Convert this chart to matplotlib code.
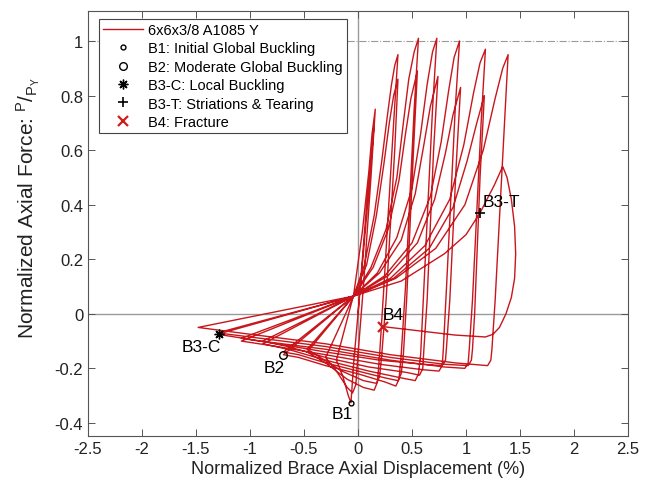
import matplotlib
matplotlib.use("Agg")
import matplotlib.pyplot as plt
import numpy as np

plt.rcParams['font.family'] = ['Liberation Sans', 'DejaVu Sans']
plt.rcParams['mathtext.fontset'] = 'custom'
plt.rcParams['mathtext.rm'] = 'Liberation Sans'
plt.rcParams['mathtext.it'] = 'Liberation Sans:italic'

# ---- hysteresis data (normalized displacement %, P/Py) ----
c00_x = [0.0, 0.07, 0.13, 0.15, 0.10, 0.0, -0.04, -0.065, -0.09, -0.14, -0.20]
c00_y = [0.0, 0.35, 0.62, 0.70, 0.45, 0.0, -0.18, -0.326, -0.30, -0.23, -0.17]
c01_x = [-0.12, -0.04, 0.04, 0.10, 0.13, 0.16, 0.12, 0.05, 0.0, -0.02, -0.05, -0.10, -0.20, -0.30]
c01_y = [-0.05, 0.07, 0.30, 0.52, 0.66, 0.75, 0.50, 0.10, -0.15, -0.26, -0.29, -0.27, -0.21, -0.16]
c02_x = [-0.04, 0.06, 0.15, 0.22, 0.27, 0.31, 0.34, 0.37, 0.33, 0.24, 0.20, 0.18, 0.15, 0.05, -0.10, -0.30, -0.47]
c02_y = [0.065, 0.18, 0.36, 0.56, 0.72, 0.84, 0.91, 0.95, 0.70, 0.10, -0.15, -0.25, -0.28, -0.27, -0.24, -0.18, -0.14]
c03_x = [-0.04, 0.08, 0.17, 0.24, 0.29, 0.33, 0.37, 0.34, 0.26, 0.22, 0.20, 0.17, 0.05, -0.15, -0.35, -0.47]
c03_y = [0.065, 0.18, 0.36, 0.55, 0.70, 0.80, 0.86, 0.60, 0.05, -0.15, -0.23, -0.255, -0.245, -0.21, -0.16, -0.13]
c04_x = [-0.04, 0.12, 0.26, 0.36, 0.42, 0.47, 0.52, 0.56, 0.52, 0.44, 0.40, 0.38, 0.35, 0.25, 0.0, -0.30, -0.55, -0.69]
c04_y = [0.065, 0.17, 0.31, 0.50, 0.70, 0.86, 0.96, 1.01, 0.75, 0.10, -0.15, -0.24, -0.265, -0.25, -0.22, -0.19, -0.16, -0.15]
c05_x = [-0.04, 0.14, 0.28, 0.38, 0.44, 0.49, 0.55, 0.52, 0.45, 0.42, 0.40, 0.37, 0.25, 0.0, -0.30, -0.55, -0.69]
c05_y = [0.065, 0.17, 0.31, 0.49, 0.66, 0.79, 0.89, 0.65, 0.05, -0.15, -0.22, -0.245, -0.235, -0.21, -0.18, -0.15, -0.14]
c06_x = [-0.04, 0.18, 0.36, 0.50, 0.58, 0.64, 0.69, 0.73, 0.69, 0.61, 0.58, 0.56, 0.53, 0.40, 0.10, -0.30, -0.65, -0.88]
c06_y = [0.065, 0.15, 0.28, 0.46, 0.66, 0.84, 0.96, 1.01, 0.75, 0.10, -0.15, -0.22, -0.245, -0.235, -0.21, -0.17, -0.13, -0.11]
c07_x = [-0.04, 0.20, 0.40, 0.53, 0.61, 0.67, 0.74, 0.70, 0.64, 0.61, 0.60, 0.57, 0.45, 0.10, -0.30, -0.65, -0.88]
c07_y = [0.065, 0.15, 0.27, 0.44, 0.62, 0.76, 0.87, 0.60, 0.05, -0.13, -0.20, -0.225, -0.215, -0.195, -0.16, -0.12, -0.10]
c08_x = [-0.04, 0.25, 0.50, 0.67, 0.77, 0.84, 0.89, 0.94, 0.90, 0.82, 0.79, 0.78, 0.75, 0.60, 0.20, -0.30, -0.75, -1.08]
c08_y = [0.065, 0.14, 0.26, 0.43, 0.63, 0.82, 0.94, 1.00, 0.75, 0.10, -0.13, -0.19, -0.21, -0.205, -0.185, -0.15, -0.12, -0.10]
c09_x = [-0.04, 0.28, 0.55, 0.71, 0.81, 0.88, 0.95, 0.91, 0.85, 0.82, 0.81, 0.78, 0.60, 0.20, -0.30, -0.75, -1.08]
c09_y = [0.065, 0.14, 0.26, 0.42, 0.59, 0.73, 0.83, 0.55, 0.05, -0.12, -0.17, -0.19, -0.185, -0.17, -0.14, -0.11, -0.09]
c10_x = [-0.04, 0.30, 0.62, 0.85, 0.98, 1.07, 1.13, 1.18, 1.14, 1.06, 1.03, 1.02, 0.99, 0.80, 0.30, -0.30, -0.90, -1.30]
c10_y = [0.065, 0.13, 0.25, 0.42, 0.62, 0.81, 0.92, 0.97, 0.70, 0.05, -0.13, -0.18, -0.20, -0.195, -0.17, -0.13, -0.10, -0.075]
c11_x = [-0.04, 0.33, 0.66, 0.88, 1.01, 1.10, 1.17, 1.13, 1.08, 1.06, 1.05, 1.02, 0.80, 0.30, -0.30, -0.90, -1.30]
c11_y = [0.065, 0.13, 0.24, 0.39, 0.56, 0.70, 0.80, 0.50, 0.0, -0.13, -0.17, -0.19, -0.185, -0.16, -0.12, -0.09, -0.07]
c12_x = [-0.04, 0.35, 0.72, 0.99, 1.16, 1.27, 1.34, 1.39, 1.35, 1.27, 1.24, 1.23, 1.20, 0.90, 0.30, -0.30, -1.00, -1.48]
c12_y = [0.065, 0.13, 0.24, 0.40, 0.60, 0.79, 0.90, 0.95, 0.65, 0.05, -0.13, -0.17, -0.19, -0.18, -0.15, -0.11, -0.075, -0.05]
c13_x = [-0.04, 0.40, 0.80, 1.00, 1.13, 1.26, 1.34, 1.38, 1.42, 1.45, 1.46, 1.45, 1.42, 1.37, 1.31,
         1.25, 1.18, 0.90, 0.55, 0.23]
c13_y = [0.065, 0.12, 0.22, 0.29, 0.37, 0.47, 0.54, 0.50, 0.42, 0.32, 0.22, 0.13, 0.06, 0.0, -0.05,
         -0.075, -0.085, -0.078, -0.062, -0.047]

cycles_x = [c00_x, c01_x, c02_x, c03_x, c04_x, c05_x, c06_x, c07_x,
            c08_x, c09_x, c10_x, c11_x, c12_x, c13_x]
cycles_y = [c00_y, c01_y, c02_y, c03_y, c04_y, c05_y, c06_y, c07_y,
            c08_y, c09_y, c10_y, c11_y, c12_y, c13_y]

# ---- damage states ----
event_labels = ["B1", "B2", "B3-C", "B3-T", "B4"]
event_x = [-0.065, -0.69, -1.29, 1.13, 0.23]
event_y = [-0.326, -0.15, -0.073, 0.37, -0.047]
legend_texts = ["B1: Initial Global Buckling", "B2: Moderate Global Buckling",
                "B3-C: Local Buckling", "B3-T: Striations & Tearing", "B4: Fracture"]
series_name = "6x6x3/8 A1085 Y"

x_ticks = [-2.5, -2, -1.5, -1, -0.5, 0, 0.5, 1, 1.5, 2, 2.5]
y_ticks = [-0.4, -0.2, 0, 0.2, 0.4, 0.6, 0.8, 1]

# ---- figure ----
fig = plt.figure(figsize=(6.49, 4.85), dpi=100)
ax = fig.add_axes([88/649, 1-437/485, 540/649, 425/485])

red = '#c8161d'
ax.axhline(0, color='#9a9a9a', lw=1.0, zorder=1)
ax.axvline(0, color='#9a9a9a', lw=1.0, zorder=1)
ax.axhline(1, color='#9a9a9a', lw=0.8, ls='-.', zorder=1)

all_x = np.concatenate([np.asarray(c) for c in cycles_x])
all_y = np.concatenate([np.asarray(c) for c in cycles_y])
ax.plot(all_x, all_y, color=red, lw=1.0, zorder=3, label=series_name)

ms = dict(zorder=5, linestyle='none')
ax.plot(event_x[0], event_y[0], marker='o', ms=3.5, mfc='none', mec='black', mew=1.0,
        label=legend_texts[0], **ms)
ax.plot(event_x[1], event_y[1], marker='o', ms=5.5, mfc='none', mec='black', mew=1.0,
        label=legend_texts[1], **ms)
ax.plot(event_x[2], event_y[2], marker=(8, 2, 0), ms=7, mec='black', mew=1.0,
        label=legend_texts[2], **ms)
ax.plot(event_x[3], event_y[3], marker='+', ms=7, mec='black', mew=1.2,
        label=legend_texts[3], **ms)
ax.plot(event_x[4], event_y[4], marker='x', ms=7, mec='#d01c1c', mew=1.6,
        label=legend_texts[4], **ms)

txt = dict(fontsize=12.5, color='black', zorder=6)
ax.text(-0.15, -0.364, event_labels[0], ha='center', va='center', **txt)
ax.text(-0.78, -0.198, event_labels[1], ha='center', va='center', **txt)
ax.text(-1.45, -0.12, event_labels[2], ha='center', va='center', **txt)
ax.text(1.15, 0.41, event_labels[3], ha='left', va='center', **txt)
ax.text(0.23, -0.004, event_labels[4], ha='left', va='center', **txt)

ax.set_xlim(-2.5, 2.5)
ax.set_ylim(-0.448, 1.11)
ax.set_xticks(x_ticks)
ax.set_xticklabels([f"{t:g}" for t in x_ticks])
ax.set_yticks(y_ticks)
ax.set_yticklabels([f"{t:g}" for t in y_ticks])
ax.tick_params(direction='in', length=5, width=0.7, colors='#555555', labelcolor='#222222',
               labelsize=12, top=True, right=True)
for s in ax.spines.values():
    s.set_color('#555555')
    s.set_linewidth(0.8)

ax.set_xlabel('Normalized Brace Axial Displacement (%)', fontsize=13, color='#222222', labelpad=3)
ax.set_ylabel(r'Normalized Axial Force: $^{\mathrm{P}}/_{\mathrm{P}_{\mathrm{Y}}}$',
              fontsize=15, color='#222222')
ax.yaxis.set_label_coords(-0.086, 0.54)

leg = ax.legend(loc='upper left', bbox_to_anchor=(0.02, 0.982), fontsize=10.5, frameon=True,
                fancybox=False, edgecolor='#444444', framealpha=1, borderaxespad=0,
                handlelength=2.7, labelspacing=0.3, handletextpad=0.4, borderpad=0.3)
leg.get_frame().set_linewidth(0.8)

fig.savefig('out.png', dpi=100)
